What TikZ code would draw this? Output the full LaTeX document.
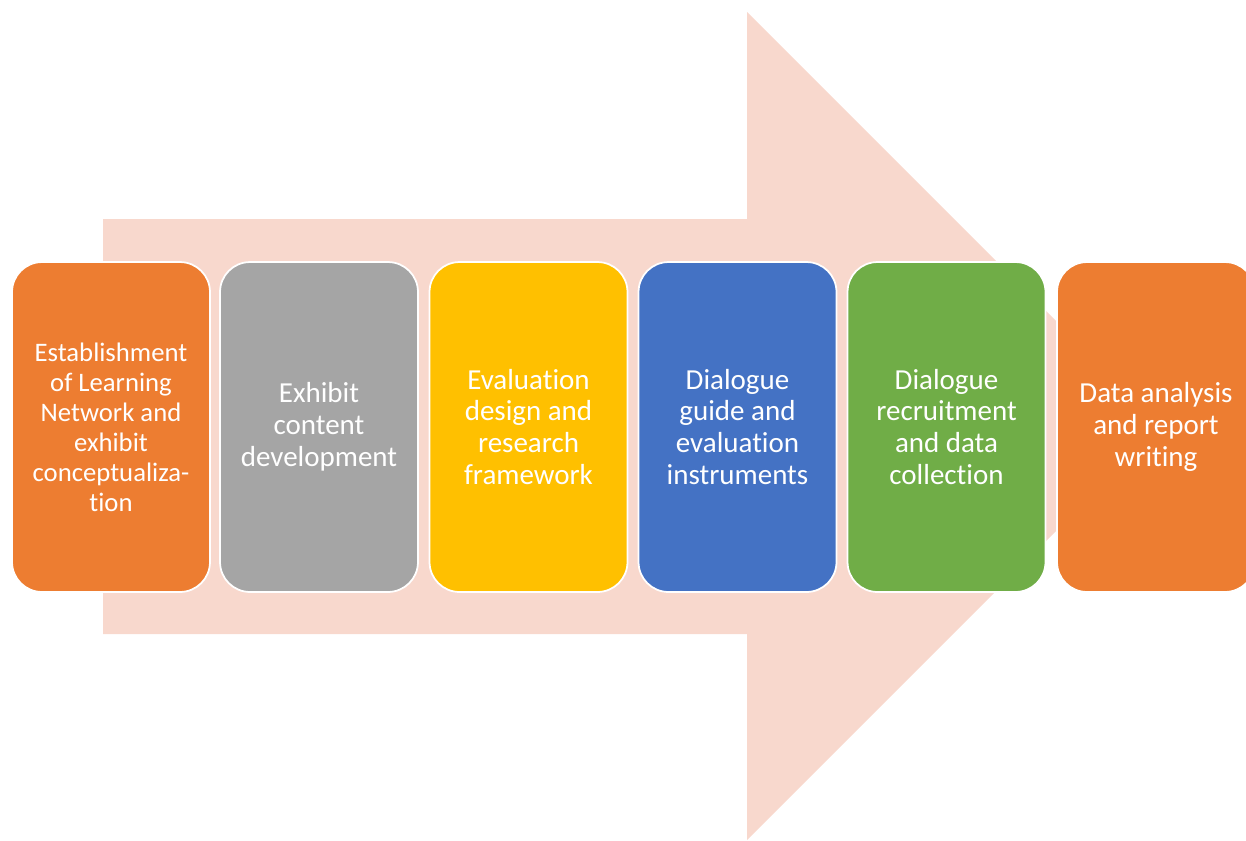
\documentclass[tikz,border=0pt]{standalone}
\usepackage{fontspec}
\setmainfont{Carlito}[Ligatures=NoCommon]
\usepackage{tikz}
\usetikzlibrary{positioning}

\definecolor{arrowpink}{HTML}{F8D8CD}
\definecolor{stageorange}{HTML}{ED7D31}
\definecolor{stagegray}{HTML}{A5A5A5}
\definecolor{stagegold}{HTML}{FFC000}
\definecolor{stageblue}{HTML}{4472C4}
\definecolor{stagegreen}{HTML}{70AD47}

\begin{document}
\begin{tikzpicture}[x=0.02cm, y=-0.02cm,
    stage/.style={draw=white, line width=1pt, rounded corners=0.6cm,
        minimum width=3.96cm, minimum height=6.6cm, inner sep=0pt,
        text=white, align=center, font=\fontsize{16.5}{18.2}\selectfont}]
    \useasboundingbox (0,0) rectangle (1246,840);
    \clip (0,0) rectangle (1246,840);

    % Big background arrow
    \fill[arrowpink] (103,219) -- (747,219) -- (747,12) -- (1161,426)
        -- (747,840) -- (747,634) -- (103,634) -- cycle;

    % Stages
    \node[stage, fill=stageorange, font=\fontsize{15.2}{17.1}\selectfont] (network) at (111,427)
        {Establishment\\of Learning\\Network and\\exhibit\\conceptualiza-\\tion};
    \node[stage, fill=stagegray] (content) at (319,427)
        {Exhibit\\content\\development};
    \node[stage, fill=stagegold] (design) at (528.5,427)
        {Evaluation\\design and\\research\\framework};
    \node[stage, fill=stageblue] (guide) at (737.5,427)
        {Dialogue\\guide and\\evaluation\\instruments};
    \node[stage, fill=stagegreen] (recruit) at (946.5,427)
        {Dialogue\\recruitment\\and data\\collection};
    \node[stage, fill=stageorange] (report) at (1156,427)
        {Data analysis\\and report\\writing};
\end{tikzpicture}
\end{document}
